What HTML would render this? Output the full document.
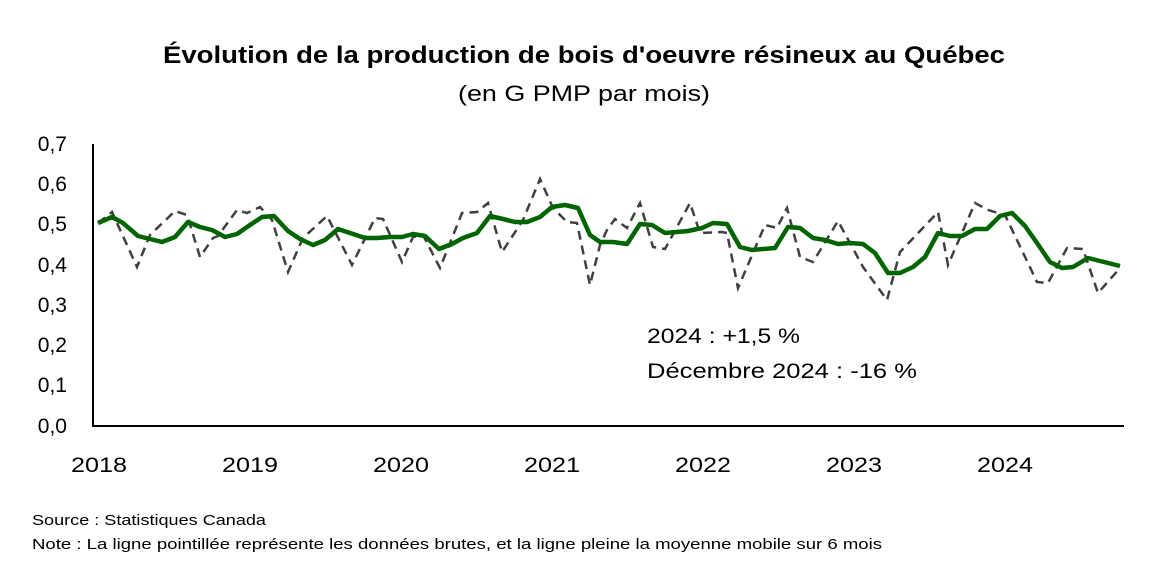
<!DOCTYPE html>
<html><head><meta charset="utf-8"><style>
body{margin:0;background:#fff;width:1156px;height:581px;overflow:hidden}
svg text{font-family:"Liberation Sans","DejaVu Sans",sans-serif;fill:#000}
</style></head><body>
<svg width="1156" height="581" viewBox="0 0 1156 581">
<text x="163" y="63" font-size="24" font-weight="bold" textLength="842" lengthAdjust="spacingAndGlyphs">Évolution de la production de bois d'oeuvre résineux au Québec</text>
<text x="458" y="101" font-size="22" textLength="252" lengthAdjust="spacingAndGlyphs">(en G PMP par mois)</text>
<g font-size="21" text-anchor="end">
<text x="67" y="151">0,7</text><text x="67" y="191">0,6</text><text x="67" y="231">0,5</text><text x="67" y="272">0,4</text>
<text x="67" y="312">0,3</text><text x="67" y="352">0,2</text><text x="67" y="392">0,1</text><text x="67" y="433">0,0</text>
</g>
<g font-size="21">
<text x="71" y="472" textLength="56" lengthAdjust="spacingAndGlyphs">2018</text>
<text x="222" y="472" textLength="56" lengthAdjust="spacingAndGlyphs">2019</text>
<text x="373" y="472" textLength="56" lengthAdjust="spacingAndGlyphs">2020</text>
<text x="524" y="472" textLength="56" lengthAdjust="spacingAndGlyphs">2021</text>
<text x="675" y="472" textLength="56" lengthAdjust="spacingAndGlyphs">2022</text>
<text x="826" y="472" textLength="56" lengthAdjust="spacingAndGlyphs">2023</text>
<text x="977" y="472" textLength="56" lengthAdjust="spacingAndGlyphs">2024</text>
</g>
<line x1="93" y1="144" x2="93" y2="427" stroke="#000" stroke-width="2"/>
<line x1="92" y1="426" x2="1124" y2="426" stroke="#000" stroke-width="2"/>
<polyline fill="none" stroke="#404040" stroke-width="2.5" stroke-dasharray="9,6" points="98,223 112,212 137,267 150,235 175,211 187,215 200,257 213,238 218,236 237,210 247,213 260,207 272,220 288,272 303,238 327,216 352,265 375,218 383,219 402,262 413,237 423,235 440,268 462,213 477,212 488,203 502,252 523,220 540,179 553,208 567,222 577,223 590,285 600,245 607,230 615,219 627,228 640,203 653,247 665,249 690,203 700,233 722,232 727,233 738,288 765,225 777,228 787,208 800,257 813,262 838,221 863,267 887,300 900,252 938,212 948,265 975,203 988,210 1005,215 1037,282 1048,283 1067,248 1083,249 1098,293 1120,268"/>
<polyline fill="none" stroke="#006400" stroke-width="4.5" stroke-linejoin="round" points="98,223 112,217 123,223 138,236 162,242 175,237 188,222 200,227 212,230 225,237 237,234 250,225 262,217 274,216 288,231 300,239 313,245 325,240 338,229 350,233 365,238 377,238 390,237 402,237 413,234 425,236 439,249 452,244 463,238 477,233 490,216 503,219 515,222 527,222 540,217 552,207 565,205 578,208 590,235 600,242 613,242 627,244 640,224 652,225 665,233 688,231 702,228 713,223 727,224 740,247 752,250 775,248 788,227 800,228 813,238 825,240 838,244 850,243 863,244 875,253 888,273 900,273 913,267 925,257 938,233 950,236 962,236 975,229 987,229 1000,216 1012,213 1025,226 1037,243 1050,262 1062,268 1073,267 1088,258 1100,261 1120,266"/>
<text x="647" y="343" font-size="21" textLength="153" lengthAdjust="spacingAndGlyphs">2024 : +1,5 %</text>
<text x="647" y="378" font-size="21" textLength="270" lengthAdjust="spacingAndGlyphs">Décembre 2024 : -16 %</text>
<text x="32" y="525" font-size="15" textLength="234" lengthAdjust="spacingAndGlyphs">Source : Statistiques Canada</text>
<text x="32" y="549" font-size="15" textLength="850" lengthAdjust="spacingAndGlyphs">Note : La ligne pointillée représente les données brutes, et la ligne pleine la moyenne mobile sur 6 mois</text>
</svg>
</body></html>
